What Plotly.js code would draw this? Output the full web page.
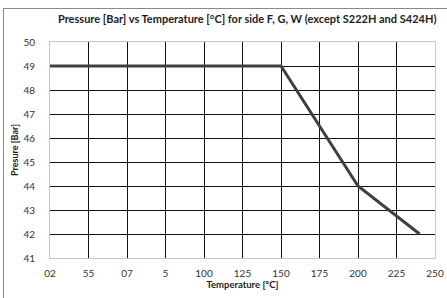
<!DOCTYPE html>
<html>
<head>
<meta charset="utf-8">
<script src="https://cdn.plot.ly/plotly-3.0.1.min.js"></script>
<style>
  html, body { margin: 0; padding: 0; background: #fff; }
  #wrap { position: relative; width: 447px; height: 298px; overflow: hidden; }
  #chart { position: absolute; left: 0; top: 0; width: 447px; height: 298px; }
  #frame { position: absolute; left: 3px; top: 8px; width: 460px; height: 300px;
           border-left: 1px solid #8a8a8a; border-top: 1px solid #8a8a8a; pointer-events: none; }
</style>
</head>
<body>
<div id="wrap"><div id="chart"></div><div id="frame"></div></div>
<script>
const temperature = [0, 150, 200, 240];
const pressure = [49, 49, 44, 42];
const xTickVals = [0, 25, 50, 75, 100, 125, 150, 175, 200, 225, 250];
const xTickText = ["02", "55", "07", "5", "100", "125", "150", "175", "200", "225", "250"];
const yTickVals = [41, 42, 43, 44, 45, 46, 47, 48, 49, 50];

const font = "Lato, 'Open Sans', sans-serif";

Plotly.newPlot('chart', [{
  x: temperature,
  y: pressure,
  type: 'scatter',
  mode: 'lines',
  line: { color: '#404040', width: 3 },
  hoverinfo: 'skip'
}], {
  width: 447, height: 298,
  margin: { l: 50, r: 12, t: 42, b: 40 },
  paper_bgcolor: '#fff', plot_bgcolor: '#fff',
  showlegend: false,
  title: {
    text: '<b>Pressure [Bar] vs Temperature [°C] for side F, G, W (except S222H and S424H)</b>',
    font: { family: font, size: 11, color: '#222' },
    x: 0.553, xanchor: 'center', y: 0.935, yanchor: 'middle'
  },
  xaxis: {
    range: [0, 250], tickmode: 'array', tickvals: xTickVals, ticktext: xTickText,
    showgrid: true, gridcolor: '#111', gridwidth: 1,
    zeroline: false, showline: true, linecolor: '#c8c8c8', mirror: true,
    ticks: '', ticklabelstandoff: 6,
    tickfont: { family: font, size: 10, color: '#333' },
    title: { text: '<b>Temperature [°C]</b>', font: { family: font, size: 9.5, color: '#222' }, standoff: 1 }
  },
  yaxis: {
    range: [41, 50], tickmode: 'array', tickvals: yTickVals,
    showgrid: true, gridcolor: '#111', gridwidth: 1,
    zeroline: false, showline: true, linecolor: '#c8c8c8', mirror: true,
    ticks: '', ticklabelstandoff: 12,
    tickfont: { family: font, size: 10, color: '#333' },
    title: { text: '<b>Presure [Bar]</b>', font: { family: font, size: 9, color: '#222' }, standoff: 3 }
  }
}, { displayModeBar: false, staticPlot: true });
</script>
</body>
</html>
